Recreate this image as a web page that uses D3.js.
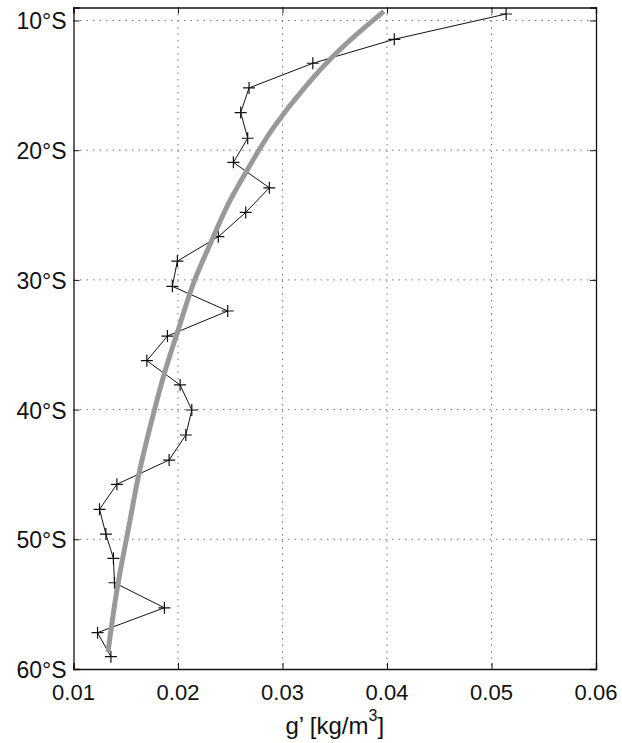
<!DOCTYPE html>
<html>
<head>
<meta charset="utf-8">
<script src="https://cdn.jsdelivr.net/npm/d3@7"></script>
<style>
  body { margin: 0; background: #fff; }
  text { font-family: "Liberation Sans", Arial, sans-serif; fill: #111; }
</style>
</head>
<body>
<svg id="chart" width="622" height="743"></svg>
<script>
// observed g' per latitude band (deg S)
var obsLat = [9.5, 11.45, 13.3, 15.2, 17.1, 19.08, 20.94, 22.9, 24.8, 26.67, 28.55, 30.5, 32.4, 34.33,
  36.23, 38.1, 40.03, 41.96, 43.89, 45.76, 47.69, 49.6, 51.47, 53.35, 55.28, 57.2, 59.05];
var obsG = [0.0514, 0.0407, 0.0329, 0.0268, 0.0260, 0.02667, 0.0253, 0.02874, 0.02648, 0.02386, 0.01994,
  0.01946, 0.02476, 0.01899, 0.01702, 0.0202, 0.02132, 0.02075, 0.01915, 0.01415, 0.01249, 0.0131,
  0.01382, 0.01392, 0.0187, 0.0123, 0.01358];

var fitLat = [9.3, 11, 12.8, 15, 18.3, 21.7, 24, 27.2, 30, 33.9, 37.2, 40.8, 45.2, 49, 53.7, 58.7];
var fitG = [0.0397, 0.0372, 0.0348, 0.0323, 0.0291, 0.0265, 0.0249, 0.0231, 0.0216, 0.0200, 0.0187,
  0.0175, 0.0162, 0.0153, 0.0142, 0.0133];

var xTicks = [0.01, 0.02, 0.03, 0.04, 0.05, 0.06];
var xTickLabels = ["0.01", "0.02", "0.03", "0.04", "0.05", "0.06"];
var yTicks = [10, 20, 30, 40, 50, 60];
var yTickLabels = ["10°S", "20°S", "30°S", "40°S", "50°S", "60°S"];

var svg = d3.select("#chart");
var margin = {top: 7.5, right: 26, bottom: 74, left: 73.5},
  width = 622 - margin.left - margin.right,
  height = 743 - margin.top - margin.bottom;

var x = d3.scaleLinear().domain([0.01, 0.06]).range([0, width]);
var y = d3.scaleLinear().domain([9, 60]).range([0, height]);

var g = svg.append("g")
  .attr("transform", "translate(" + margin.left + "," + margin.top + ")");

// dotted grid
g.selectAll(".vgrid")
  .data(xTicks.slice(1, -1))
  .enter().append("line")
  .attr("x1", function(d) { return x(d); })
  .attr("x2", function(d) { return x(d); })
  .attr("y1", 0).attr("y2", height)
  .attr("stroke", "#777").attr("stroke-width", 1)
  .attr("stroke-dasharray", "1.5,5");

g.selectAll(".hgrid")
  .data(yTicks.slice(0, -1))
  .enter().append("line")
  .attr("y1", function(d) { return y(d); })
  .attr("y2", function(d) { return y(d); })
  .attr("x1", 0).attr("x2", width)
  .attr("stroke", "#777").attr("stroke-width", 1)
  .attr("stroke-dasharray", "1.5,5");

// axes with inward ticks, labels drawn separately
var xAxis = d3.axisBottom(x).tickValues(xTicks).tickSize(-6).tickFormat("");
var xAxisTop = d3.axisTop(x).tickValues(xTicks).tickSize(-6).tickFormat("");
var yAxis = d3.axisLeft(y).tickValues(yTicks).tickSize(-6).tickFormat("");
var yAxisRight = d3.axisRight(y).tickValues(yTicks).tickSize(-6).tickFormat("");

g.append("g").attr("transform", "translate(0," + height + ")").call(xAxis);
g.append("g").call(xAxisTop);
g.append("g").call(yAxis);
g.append("g").attr("transform", "translate(" + width + ",0)").call(yAxisRight);
g.selectAll(".domain").attr("stroke", "#111").attr("stroke-width", 1.3);
g.selectAll(".tick line").attr("stroke", "#111");

g.selectAll(".xlab")
  .data(xTicks)
  .enter().append("text")
  .attr("x", function(d) { return x(d); })
  .attr("y", height + 31)
  .attr("text-anchor", "middle")
  .style("font-size", "22px")
  .text(function(d, i) { return xTickLabels[i]; });

g.selectAll(".ylab")
  .data(yTicks)
  .enter().append("text")
  .attr("x", -7)
  .attr("y", function(d) { return y(d) + 9; })
  .attr("text-anchor", "end")
  .style("font-size", "23px")
  .text(function(d, i) { return yTickLabels[i]; });

var title = g.append("text")
  .attr("x", width / 2)
  .attr("y", height + 65)
  .attr("text-anchor", "middle")
  .style("font-size", "24px");
title.append("tspan").text("g’ [kg/m");
title.append("tspan").attr("dy", -13).style("font-size", "16px").text("3");
title.append("tspan").attr("dy", 13).text("]");

// observations
var obs = obsLat.map(function(d, i) { return {lat: d, g: obsG[i]}; });
var fit = fitLat.map(function(d, i) { return {lat: d, g: fitG[i]}; });

var obsLine = d3.line()
  .x(function(d) { return x(d.g); })
  .y(function(d) { return y(d.lat); });

g.append("path")
  .datum(obs)
  .attr("fill", "none")
  .attr("stroke", "#111")
  .attr("stroke-width", 1)
  .attr("d", obsLine);

g.selectAll(".mark")
  .data(obs)
  .enter().append("path")
  .attr("fill", "none")
  .attr("stroke", "#111")
  .attr("stroke-width", 1.2)
  .attr("d", function(d) {
    var cx = x(d.g), cy = y(d.lat);
    return "M" + (cx - 6) + "," + cy + "h12M" + cx + "," + (cy - 6) + "v12";
  });

var fitLine = d3.line()
  .curve(d3.curveMonotoneY)
  .x(function(d) { return x(d.g); })
  .y(function(d) { return y(d.lat); });

g.append("path")
  .datum(fit)
  .attr("fill", "none")
  .attr("stroke", "#999")
  .attr("stroke-width", 5)
  .attr("d", fitLine);
</script>
</body>
</html>
